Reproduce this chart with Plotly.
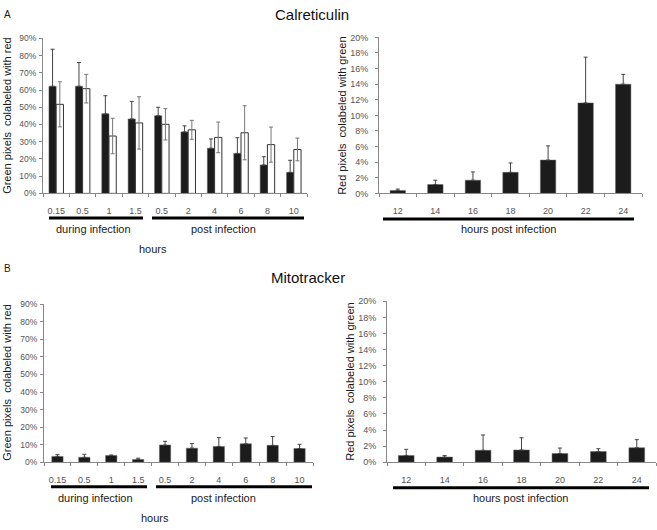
import plotly.graph_objects as go

# ---- data ----
left_labels = ["0.15", "0.5", "1", "1.5", "0.5", "2", "4", "6", "8", "10"]
right_labels = ["12", "14", "16", "18", "20", "22", "24"]

# Calreticulin, green pixels colabeled with red (%)
cal_black = [62.2, 62.2, 46.2, 43.2, 45.1, 35.7, 26.2, 23.2, 16.5, 12.2]
cal_black_err = [21.5, 13.8, 10.5, 10.2, 4.9, 3.5, 5.4, 9.1, 4.8, 7.0]
cal_white = [51.7, 60.8, 33.3, 40.9, 40.1, 36.9, 32.5, 35.2, 28.3, 25.5]
cal_white_err = [13.1, 8.3, 10.3, 15.2, 9.1, 5.5, 8.9, 15.7, 10.2, 6.6]

# Calreticulin, red pixels colabeled with green (%)
cal_red = [0.38, 1.14, 1.69, 2.7, 4.27, 11.6, 14.0]
cal_red_err = [0.17, 0.55, 1.06, 1.2, 1.82, 5.86, 1.26]

# Mitotracker
mito_green = [3.3, 2.8, 3.8, 1.6, 9.8, 8.0, 9.0, 10.5, 9.6, 7.8]
mito_green_err = [1.0, 1.7, 0.3, 0.7, 2.1, 2.6, 5.0, 3.3, 5.0, 2.4]
mito_red = [0.84, 0.64, 1.48, 1.52, 1.08, 1.32, 1.8]
mito_red_err = [0.76, 0.2, 1.9, 1.52, 0.68, 0.36, 1.0]

W, H = 657, 530


def px(x):
    return x / W


def py(y):
    return 1 - y / H


BLACK = "#1c1c1c"

fig = go.Figure()

xl = list(range(len(left_labels)))
xr = list(range(len(right_labels)))


def up_err(vals, color="#444"):
    return dict(type="data", symmetric=False, array=vals, arrayminus=[0] * len(vals),
                color=color, thickness=1, width=2)


# A left
fig.add_trace(go.Bar(x=xl, y=cal_black, width=0.275, offset=-0.275,
                     marker=dict(color=BLACK, line=dict(color="#666", width=0.5)),
                     error_y=up_err(cal_black_err), xaxis="x", yaxis="y"))
fig.add_trace(go.Bar(x=xl, y=cal_white, width=0.275, offset=0,
                     marker=dict(color="white", line=dict(color="#333", width=1)),
                     error_y=dict(type="data", array=cal_white_err, color="#777",
                                  thickness=1, width=2), xaxis="x", yaxis="y"))
# A right
fig.add_trace(go.Bar(x=xr, y=cal_red, width=0.41,
                     marker=dict(color=BLACK, line=dict(color="#666", width=0.5)),
                     error_y=up_err(cal_red_err), xaxis="x2", yaxis="y2"))
# B left
fig.add_trace(go.Bar(x=xl, y=mito_green, width=0.42,
                     marker=dict(color=BLACK, line=dict(color="#666", width=0.5)),
                     error_y=up_err(mito_green_err), xaxis="x3", yaxis="y3"))
# B right
fig.add_trace(go.Bar(x=xr, y=mito_red, width=0.41,
                     marker=dict(color=BLACK, line=dict(color="#666", width=0.5)),
                     error_y=up_err(mito_red_err), xaxis="x4", yaxis="y4"))


def xax(domain, labels, anchor):
    n = len(labels)
    return dict(domain=domain, anchor=anchor, range=[-0.5, n - 0.5],
                tickmode="array", tickvals=list(range(n)), ticktext=labels,
                ticks="", ticklabelstandoff=9,
                tickfont=dict(family="Liberation Sans", size=9, color="#555"),
                showline=True, linecolor="#888", linewidth=1, showgrid=False,
                zeroline=False, fixedrange=True,
                minor=dict(tickmode="array", tickvals=[i - 0.5 for i in range(n + 1)],
                           ticks="outside", ticklen=3, tickcolor="#888", showgrid=False))


def yax(domain, top, step, anchor, size, standoff):
    return dict(domain=domain, anchor=anchor, range=[0, top], dtick=step,
                ticksuffix="%", ticks="outside", ticklen=3, tickcolor="#888",
                tickfont=dict(family="Liberation Sans", size=size, color="#555"),
                ticklabelstandoff=standoff,
                showline=True, linecolor="#888", linewidth=1, showgrid=False,
                zeroline=False, fixedrange=True)


fig.update_layout(
    width=W, height=H, margin=dict(l=0, r=0, t=0, b=0),
    paper_bgcolor="white", plot_bgcolor="white", showlegend=False,
    barmode="overlay",
    xaxis=xax([px(43), px(307)], left_labels, "y"),
    yaxis=yax([py(192), py(34)], 90, 10, "x", 8.5, 1),
    xaxis2=xax([px(379), px(642)], right_labels, "y2"),
    yaxis2=yax([py(192), py(33)], 20, 2, "x2", 9, 5),
    xaxis3=xax([px(44), px(313)], left_labels, "y3"),
    yaxis3=yax([py(466), py(305)], 90, 10, "x3", 8.5, 1),
    xaxis4=xax([px(387), px(656)], right_labels, "y4"),
    yaxis4=yax([py(466), py(302)], 20, 2, "x4", 9, 5),
)

# thick group lines under the category labels
lines = [(49, 143, 217), (152, 304, 217), (383, 634, 218),
         (51, 147, 491), (156, 312, 491), (393, 649, 492)]
for x0, x1, y in lines:
    fig.add_shape(type="line", xref="paper", yref="paper",
                  x0=px(x0), x1=px(x1), y0=py(y), y1=py(y),
                  line=dict(color="black", width=3))


def note(text, x, y, size=11, angle=0, color="#1a1a1a"):
    fig.add_annotation(text=text, x=px(x), y=py(y), xref="paper", yref="paper",
                       showarrow=False, textangle=angle, xanchor="center", yanchor="middle",
                       font=dict(family="Liberation Sans", size=size, color=color))


note("Calreticulin", 312, 10, size=15, color="#111")
note("Mitotracker", 308, 278, size=15, color="#111")
note("A", 7, 10, size=10)
note("B", 7, 269, size=10)

note("Green pixels  colabeled with red", 7, 113, angle=-90)
note("Red pixels  colabeled with green", 342, 113, angle=-90)
note("Green pixels  colabeled with red", 7, 385, angle=-90)
note("Red pixels  colabeled with green", 350, 384, angle=-90)

note("during infection", 93, 228)
note("post infection", 223, 228)
note("hours", 153, 249)
note("hours post infection", 508, 228)

note("during infection", 95, 502)
note("post infection", 223, 502)
note("hours", 155, 523)
note("hours post infection", 520, 502)

# browser default body margin would shift the whole figure by 8px
fig.write_html("out.html", config={"displayModeBar": False},
               post_script="document.body.style.margin='0';")
